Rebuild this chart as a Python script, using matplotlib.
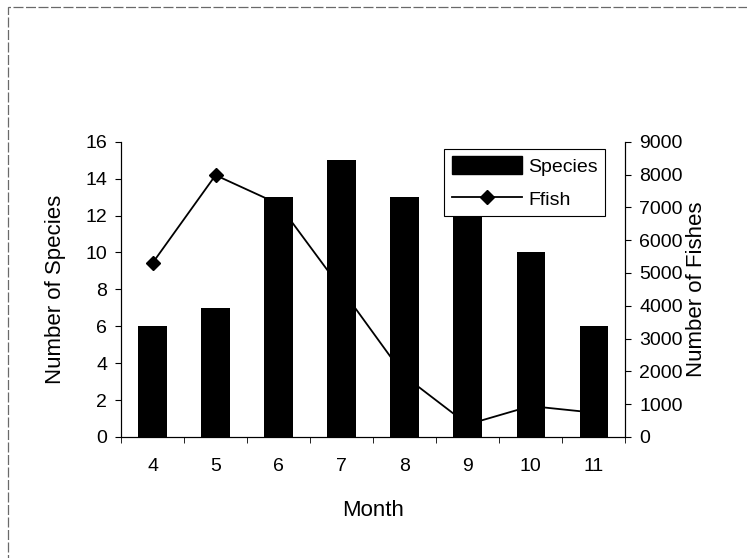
import numpy as np
import matplotlib.pyplot as plt
from matplotlib.patches import Rectangle, Patch
from matplotlib.lines import Line2D

plt.rcParams['font.family'] = ['Liberation Sans', 'DejaVu Sans']

meses = [4, 5, 6, 7, 8, 9, 10, 11]            # Mes
especies = [6, 7, 13, 15, 13, 13, 10, 6]       # Numero de especies
peces = [5300, 7980, 7100, 4500, 1850, 380, 940, 740]  # Numero de peces (Ffish)

fig = plt.figure(figsize=(7.47, 5.58), dpi=100)
ax = fig.add_axes([0.162, 0.217, 0.675, 0.529])
ax2 = ax.twinx()

# barras por encima de la linea
ax.set_zorder(2)
ax2.set_zorder(1)
ax.patch.set_visible(False)

ax.bar(meses, especies, width=0.45, color='black')
ax2.plot(meses, peces, color='black', lw=1.3, marker='D', ms=7)

ax.set_xlim(3.5, 11.5)
ax.set_ylim(0, 16)
ax2.set_ylim(0, 9000)
ax.set_yticks(np.arange(0, 17, 2))
ax2.set_yticks(np.arange(0, 9001, 1000))
ax.set_xticks(meses)
ax.set_xticks(np.arange(3.5, 11.6, 1), minor=True)
ax.tick_params(axis='x', which='major', length=0, labelsize=14, pad=15)
ax.tick_params(axis='x', which='minor', length=4, direction='out')
ax.tick_params(axis='y', labelsize=14, length=4, direction='out', pad=6)
ax2.tick_params(axis='y', labelsize=14, length=4, direction='out', pad=6)

for a in (ax, ax2):
    a.spines['top'].set_visible(False)
    for s in a.spines.values():
        s.set_linewidth(0.8)

ax.set_xlabel('Month', fontsize=16, labelpad=18)
ax.set_ylabel('Number of Species', fontsize=16, labelpad=14)
ax2.set_ylabel('Number of Fishes', fontsize=16, labelpad=2)

handles = [Patch(color='black'),
           Line2D([], [], color='black', lw=1.3, marker='D', ms=7)]
leg = ax.legend(handles, ['Species', 'Ffish'], loc='upper right',
                bbox_to_anchor=(0.98, 1.01), fontsize=14, fancybox=False,
                framealpha=1, edgecolor='black', borderpad=0.4,
                handlelength=3.6, handleheight=1.0, handletextpad=0.3,
                labelspacing=0.7)
leg.get_frame().set_linewidth(0.8)

# borde exterior del grafico
fig.patches.append(Rectangle((0.011, -0.05), 1.05, 1.037, transform=fig.transFigure,
                             fill=False, edgecolor='dimgray', lw=0.9, ls=(0, (8, 2))))

fig.savefig('out.png', dpi=100)
